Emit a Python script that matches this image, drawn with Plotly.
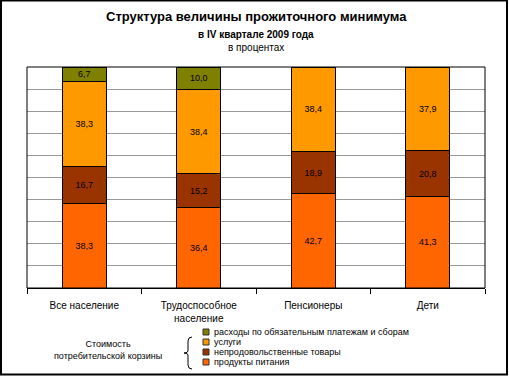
import plotly.graph_objects as go

categories = ["Все население", "Трудоспособное<br>население", "Пенсионеры", "Дети"]
series_names = [
    "продукты питания",
    "непродовольственные товары",
    "услуги",
    "расходы по обязательным платежам и сборам",
]
food = [38.3, 36.4, 42.7, 41.3]
nonfood = [16.7, 15.2, 18.9, 20.8]
services = [38.3, 38.4, 38.4, 37.9]
payments = [6.7, 10.0, 0.0, 0.0]
colors = ["#FF6600", "#993300", "#FF9900", "#808000"]
series_values = [food, nonfood, services, payments]

W, H = 509, 377
L, R, T, B = 27, 24, 67, 89
PW, PH = W - L - R, H - T - B


def px(x):
    return (x - L) / PW


def py(y):
    return (H - B - y) / PH


FONT = "Liberation Sans, Arial, sans-serif"

fig = go.Figure()
for name, vals, col in zip(series_names, series_values, colors):
    fig.add_trace(go.Bar(
        x=categories, y=vals, name=name,
        marker=dict(color=col, line=dict(color="black", width=1)),
        text=[("%.1f" % v).replace(".", ",") if v > 0 else "" for v in vals],
        textposition="inside", insidetextanchor="middle",
        textfont=dict(size=9, color="black", family=FONT),
        textangle=0, showlegend=False, hoverinfo="skip",
    ))

annotations = [
    dict(text="<b>Структура величины прожиточного минимума</b>", x=0.5, xref="paper",
         y=py(17), yref="paper", showarrow=False, font=dict(size=13, family=FONT, color="black"),
         xanchor="center", yanchor="middle"),
    dict(text="<b>в IV квартале 2009 года</b>", x=0.5, xref="paper",
         y=py(34), yref="paper", showarrow=False, font=dict(size=10, family=FONT, color="black"),
         xanchor="center", yanchor="middle"),
    dict(text="в процентах", x=0.5, xref="paper",
         y=py(47), yref="paper", showarrow=False, font=dict(size=10, family=FONT, color="black"),
         xanchor="center", yanchor="middle"),
    dict(text="Стоимость<br>потребительской корзины", x=px(108), xref="paper",
         y=py(350), yref="paper", showarrow=False, font=dict(size=9, family=FONT, color="black"),
         xanchor="center", yanchor="middle", align="center"),
]

shapes = [
    # plot area frame
    dict(type="rect", xref="paper", yref="paper", x0=0, x1=1, y0=0, y1=1,
         line=dict(color="black", width=1)),
    # outer border
    dict(type="rect", xref="paper", yref="paper", x0=px(1), x1=px(507), y0=py(0.5), y1=py(374.5),
         line=dict(color="black", width=2)),
]

legend_y = [362, 352, 342, 332]
for name, col, ly in zip(series_names, colors, legend_y):
    shapes.append(dict(type="rect", xref="paper", yref="paper",
                       x0=px(203), x1=px(209), y0=py(ly - 3), y1=py(ly + 3),
                       fillcolor=col, line=dict(color="#333333", width=1)))
    annotations.append(dict(text=name, x=px(212), xref="paper", y=py(ly), yref="paper",
                            showarrow=False, xanchor="left", yanchor="middle",
                            font=dict(size=9, family=FONT, color="black")))

# brace
brace = "M {a},{b} Q {c},{d} {c},{e} L {c},{f} Q {c},{g} {h},{g} Q {c},{g} {c},{i} L {c},{j} Q {c},{k} {a},{k}".format(
    a=px(192), b=py(337), c=px(188), d=py(337), e=py(341), f=py(351),
    g=py(353), h=px(184), i=py(355), j=py(365), k=py(369))
shapes.append(dict(type="path", xref="paper", yref="paper", path=brace,
                   line=dict(color="black", width=1)))

fig.update_layout(
    width=W, height=H,
    margin=dict(l=L, r=R, t=T, b=B),
    barmode="stack", bargap=0.615,
    paper_bgcolor="white", plot_bgcolor="white",
    font=dict(family=FONT, size=10, color="black"),
    xaxis=dict(type="category", showline=True, linecolor="black", linewidth=1,
               ticks="outside", tickson="boundaries", ticklen=5, tickcolor="black",
               ticklabelstandoff=8,
               tickfont=dict(size=10, family=FONT, color="black"), showgrid=False),
    yaxis=dict(range=[0, 100], dtick=10, showticklabels=False, showgrid=True,
               gridcolor="#999999", gridwidth=1, zeroline=False, showline=False, ticks=""),
    annotations=annotations, shapes=shapes,
    uniformtext=dict(minsize=8, mode="show"),
)

fig.write_html("out.html", config={"displayModeBar": False},
               post_script="document.body.style.margin='0';document.body.style.overflow='hidden';")
